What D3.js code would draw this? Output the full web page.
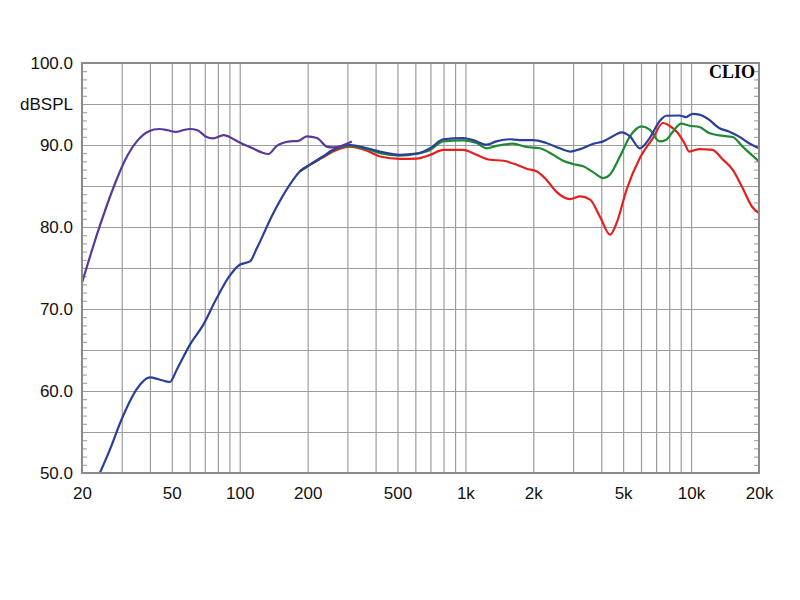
<!DOCTYPE html>
<html><head><meta charset="utf-8">
<script src="https://cdn.jsdelivr.net/npm/d3@7"></script>
<style>html,body{margin:0;padding:0;background:#fff}svg{display:block}</style>
</head><body>
<svg id="chart" width="800" height="600"></svg>
<script>
// ---- data ----
const yTickValues = [50, 60, 70, 80, 90, 100];
const yTickLabels = ["50.0", "60.0", "70.0", "80.0", "90.0", "100.0"];
const yUnitLabel = "dBSPL";
const xTickValues = [20, 50, 100, 200, 500, 1000, 2000, 5000, 10000, 20000];
const xTickLabels = ["20", "50", "100", "200", "500", "1k", "2k", "5k", "10k", "20k"];
const brand = "CLIO";

const purpleFreq = [20, 23.7, 28.1, 31.1, 35, 39.4, 44, 48, 52, 56, 60, 65, 71, 76, 85, 94, 100, 114, 125, 134, 146, 167, 182, 198, 220, 243, 259, 314];
const purpleDb   = [73.2, 79.7, 85.4, 88.2, 90.44, 91.66, 91.95, 91.8, 91.6, 91.8, 91.95, 91.8, 91.0, 90.8, 91.2, 90.7, 90.3, 89.6, 89.1, 88.9, 89.9, 90.44, 90.5, 91.05, 90.85, 89.8, 89.7, 90.44];

const blueFreq = [24, 27, 29.5, 32, 34.9, 40, 44, 49, 52.6, 60, 69, 79, 90, 100, 111, 119, 141, 167, 185, 205, 234, 259, 309, 366, 418, 513, 608, 698, 798, 978, 1082, 1238, 1370, 1570, 1736, 2000, 2284, 2622, 2910, 3222, 3692, 4080, 4520, 4920, 5360, 5930, 6560, 7250, 7760, 8880, 9500, 10160, 10880, 12000, 13300, 14700, 16260, 17980, 20000];
const blueDb   = [50, 53.3, 56.1, 58.3, 60.2, 61.66, 61.4, 61.1, 62.6, 65.6, 68.1, 71.3, 74.0, 75.4, 75.8, 77.4, 81.7, 85.2, 86.8, 87.6, 88.6, 89.4, 90.0, 89.6, 89.2, 88.8, 88.94, 89.6, 90.7, 90.85, 90.6, 90.04, 90.44, 90.7, 90.6, 90.6, 90.24, 89.6, 89.2, 89.5, 90.16, 90.44, 91.1, 91.54, 91.05, 89.6, 90.85, 92.9, 93.57, 93.6, 93.4, 93.8, 93.7, 93.1, 92.07, 91.66, 91.05, 90.24, 89.6];

const greenFreq = [185, 205, 234, 259, 309, 366, 418, 513, 608, 698, 798, 978, 1120, 1238, 1370, 1624, 1865, 2136, 2450, 2710, 3000, 3330, 3692, 4080, 4376, 4840, 5360, 6040, 6560, 7250, 7760, 8320, 9040, 9820, 10880, 12000, 13300, 15280, 16920, 20000];
const greenDb   = [86.8, 87.6, 88.6, 89.4, 89.9, 89.5, 89.0, 88.7, 88.94, 89.4, 90.44, 90.56, 90.24, 89.6, 89.9, 90.16, 89.76, 89.6, 88.8, 88.08, 87.68, 87.4, 86.66, 85.97, 86.4, 88.6, 91.05, 92.27, 91.87, 90.44, 90.65, 91.66, 92.6, 92.35, 92.2, 91.46, 91.17, 90.98, 89.8, 88.0];

const redFreq = [185, 205, 234, 259, 309, 366, 418, 513, 608, 698, 798, 978, 1120, 1288, 1474, 1686, 1865, 2066, 2284, 2520, 2910, 3222, 3570, 3940, 4376, 4680, 5180, 5930, 6780, 7500, 8020, 8740, 9340, 9820, 10880, 12440, 13750, 15280, 16920, 18600, 20000];
const redDb   = [86.8, 87.6, 88.5, 89.2, 89.8, 89.3, 88.6, 88.3, 88.35, 88.8, 89.4, 89.4, 88.8, 88.2, 88.08, 87.6, 87.1, 86.8, 85.77, 84.34, 83.4, 83.73, 83.33, 81.3, 79.06, 80.5, 84.55, 88.4, 90.85, 92.68, 92.35, 91.46, 90.24, 89.2, 89.5, 89.4, 88.3, 87.0, 84.76, 82.5, 81.7];

const seriesList = [
  {name: "red", freq: redFreq, db: redDb, color: "#e4201f"},
  {name: "green", freq: greenFreq, db: greenDb, color: "#1d8a33"},
  {name: "blue", freq: blueFreq, db: blueDb, color: "#2a3f99"},
  {name: "purple", freq: purpleFreq, db: purpleDb, color: "#58399a"}
];

// ---- layout ----
const L = 82, R = 759, T = 63, B = 473;
const svg = d3.select("#chart");
svg.append("rect").attr("width", 800).attr("height", 600).attr("fill", "#fff");

const x = d3.scaleLog().domain([20, 20000]).range([L, R]);
const y = d3.scaleLinear().domain([50, 100]).range([B, T]);

// vertical grid (1..9 per decade)
const vGrid = [];
for (let d = 10; d <= 10000; d *= 10) for (let m = 1; m <= 9; m++) { const v = d * m; if (v > 20 && v < 20000) vGrid.push(v); }
svg.append("g")
  .attr("transform", `translate(0,${B})`)
  .call(d3.axisBottom(x).tickValues(vGrid).tickSize(-(B - T)).tickFormat(""))
  .call(g => g.select(".domain").remove())
  .call(g => g.selectAll("line").attr("stroke", "#9c9c9c").attr("stroke-width", 1.2));

// horizontal grid every 5 dB
const hGrid = d3.range(55, 100, 5);
svg.append("g")
  .attr("transform", `translate(${L},0)`)
  .call(d3.axisLeft(y).tickValues(hGrid).tickSize(-(R - L)).tickFormat(""))
  .call(g => g.select(".domain").remove())
  .call(g => g.selectAll("line").attr("stroke", "#9c9c9c").attr("stroke-width", 1.2));

// minor ticks 1 dB, inside both sides
const minor = d3.range(51, 100, 1).filter(v => v % 5 !== 0);
svg.append("g")
  .attr("transform", `translate(${L},0)`)
  .call(d3.axisRight(y).tickValues(minor).tickSize(5).tickFormat(""))
  .call(g => g.select(".domain").remove())
  .call(g => g.selectAll("line").attr("stroke", "#999").attr("stroke-width", 1));
svg.append("g")
  .attr("transform", `translate(${R},0)`)
  .call(d3.axisLeft(y).tickValues(minor).tickSize(5).tickFormat(""))
  .call(g => g.select(".domain").remove())
  .call(g => g.selectAll("line").attr("stroke", "#999").attr("stroke-width", 1));

// curves
svg.append("clipPath").attr("id", "clip").append("rect")
  .attr("x", L).attr("y", T).attr("width", R - L).attr("height", B - T);
const line = d3.line().x(d => x(d[0])).y(d => y(d[1])).curve(d3.curveMonotoneX);
const curves = svg.append("g").attr("clip-path", "url(#clip)");
seriesList.forEach(s => {
  curves.append("path")
    .datum(s.freq.map((f, i) => [f, s.db[i]]))
    .attr("fill", "none")
    .attr("stroke", s.color)
    .attr("stroke-width", 2.2)
    .attr("stroke-linejoin", "round")
    .attr("d", line);
});

// border
svg.append("rect").attr("x", L).attr("y", T).attr("width", R - L).attr("height", B - T)
  .attr("fill", "none").attr("stroke", "#8a8a8a").attr("stroke-width", 2);

// y labels
const yAx = svg.append("g").attr("transform", `translate(${L - 6},0)`)
  .call(d3.axisLeft(y).tickValues(yTickValues.concat([95])).tickSize(0)
    .tickFormat(v => v === 95 ? yUnitLabel : yTickLabels[yTickValues.indexOf(v)]))
  .call(g => g.select(".domain").remove());
yAx.selectAll("text").attr("font-family", "Liberation Sans, Arial, sans-serif").attr("font-size", 17).attr("fill", "#111");

// x labels
const xAx = svg.append("g").attr("transform", `translate(0,${B + 11})`)
  .call(d3.axisBottom(x).tickValues(xTickValues).tickSize(0)
    .tickFormat(v => xTickLabels[xTickValues.indexOf(v)]))
  .call(g => g.select(".domain").remove());
xAx.selectAll("text").attr("font-family", "Liberation Sans, Arial, sans-serif").attr("font-size", 17).attr("fill", "#111");

// brand
svg.append("text").attr("x", 755).attr("y", 78).attr("text-anchor", "end")
  .attr("font-family", "Liberation Serif, Times New Roman, serif").attr("font-weight", "bold")
  .attr("font-size", 18).attr("fill", "#000").text(brand);
</script>
</body></html>
